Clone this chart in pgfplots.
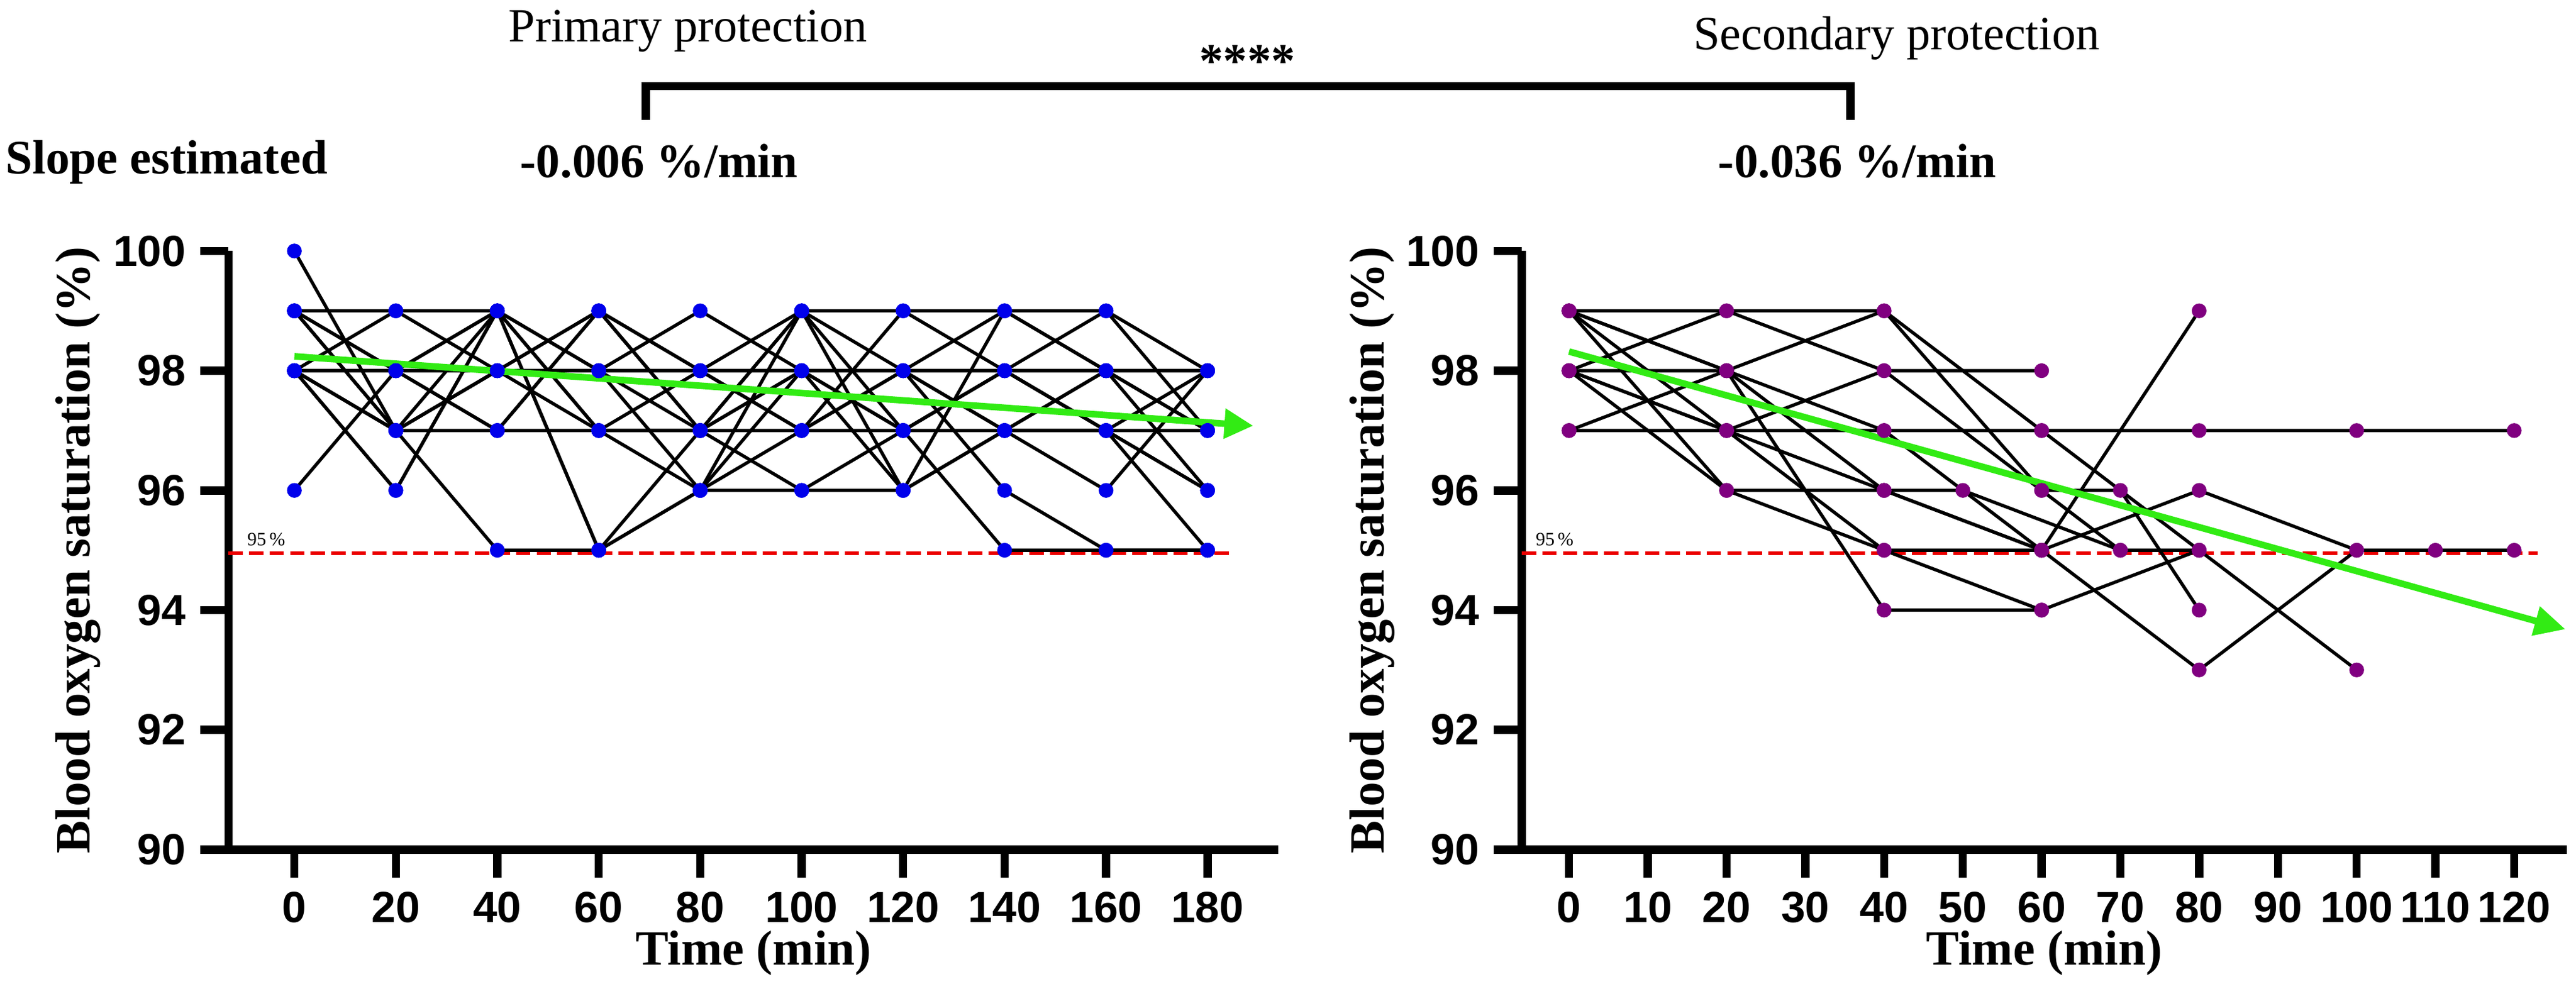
\documentclass[border=0pt]{standalone}
\usepackage{fontspec}
\setmainfont{Liberation Serif}
\newfontfamily\ticksf{Liberation Sans}
\usepackage{pgfplots}
\pgfplotsset{compat=1.18}
\usepackage{pgfplotstable}
\usetikzlibrary{arrows.meta}

\definecolor{ptblue}{RGB}{0,0,235}
\definecolor{ptpurple}{RGB}{128,0,128}
\definecolor{trendgreen}{RGB}{50,235,20}
\definecolor{refred}{RGB}{235,0,0}

\pgfplotstableread{
t   A   B  C  D  E  F  G  H  I  J  K  L  M  N  O
0   100 99 99 99 98 98 98 98 96 99 98 98 98 99 98
20  97  99 98 97 99 98 97 96 98 98 97 98 97 97 96
40  98  99 97 95 98 99 98 99 97 99 99 98 97 98 99
60  99  98 99 95 98 97 97 98 99 95 97 98 97 99 95
80  98  96 97 96 99 97 96 97 98 96 98 98 97 97 97
100 97  96 99 97 98 99 99 96 97 98 99 98 97 98 98
120 99  96 98 98 97 96 99 97 98 98 97 98 97 97 96
140 98  99 97 96 95 97 99 98 99 97 98 98 97 98 97
160 97  98 96 95 95 98 99 97 98 97 99 98 97 97 98
180 96  97 98 95 95 98 97 96 97 95 98 98 97 98 96
}\leftdata

\pgfplotstableread{
t   R1  R2  R3  R4  R5  R6  R7  R8  R9  R10 R11 R12
0   99  98  97  99  98  99  98  97  99  98  99  98
20  99  98  97  98  97  96  99  98  97  96  98  97
40  98  97  96  96  95  95  99  94  97  96  99  98
50  nan nan nan 96  nan nan nan nan nan nan nan nan
60  98  97  95  nan 95  94  96  94  95  95  97  96
70  nan nan nan 95  nan nan 96  nan nan nan nan 95
80  nan 97  99  95  96  95  94  nan 93  nan 95  nan
100 nan 97  nan 93  95  nan nan nan 95  nan nan nan
110 nan nan nan nan 95  nan nan nan nan nan nan nan
120 nan 97  nan nan 95  nan nan nan nan nan nan nan
}\rightdata

\pgfplotsset{
  panel/.style={
    scale only axis,
    anchor=south west,
    height=145.7pt,
    ymin=90, ymax=100,
    ytick={90,92,...,100},
    axis x line=bottom,
    axis y line=left,
    axis line style={line width=2pt,-},
    tick align=outside,
    major tick length=6.8pt,
    tick style={line width=2pt,black},
    /pgf/number format/assume math mode=true,
    tick label style={font=\ticksf\bfseries\fontsize{10.6}{12}\selectfont},
    every axis y label/.style={at={(axis description cs:-0.143,0.5)},rotate=90,anchor=center,
      font=\bfseries\fontsize{12}{14}\selectfont},
    every axis x label/.style={at={(axis description cs:0.5,-0.173)},anchor=center,
      font=\bfseries\fontsize{12}{14}\selectfont},
    ylabel={Blood oxygen saturation (\%)},
    xlabel={Time (min)},
    clip=false,
  },
  subj/.style={black,line width=0.8pt,no marks},
}

\begin{document}
\begin{tikzpicture}
\useasboundingbox (0,0) rectangle (627pt,240.7pt);

% ---------- left panel ----------
\begin{axis}[panel,
  at={(55.6pt,33.9pt)}, width=255.6pt,
  xmin=-13, xmax=194,
  xtick={0,20,...,180},
]
\addplot[refred,line width=0.8pt,dash pattern=on 3.5pt off 1.5pt] coordinates {(-13,94.95) (185,94.95)};
\pgfplotsinvokeforeach{A,B,C,D,E,F,G,H,I,J,K,L,M,N,O}{
  \addplot[subj] table[x=t,y=#1]{\leftdata};
}
\pgfplotsinvokeforeach{A,B,C,D,E,F,G,H,I,J,K,L,M,N,O}{
  \addplot[only marks,mark=*,mark size=1.6pt,mark options={fill=ptblue,draw=ptblue}] table[x=t,y=#1]{\leftdata};
}
\addplot[trendgreen,line width=1.6pt,-{Triangle[length=7pt,width=7pt]}] coordinates {(0,98.24) (189,97.08)};
\node[anchor=south west,inner sep=0pt,font=\fontsize{4.6}{5}\selectfont,xshift=4.4pt,yshift=1.6pt] at (axis cs:-13,94.95) {95\,\%};
\end{axis}

% ---------- right panel ----------
\begin{axis}[panel,
  at={(370.4pt,33.9pt)}, width=254.4pt,
  xmin=-6, xmax=126.7,
  xtick={0,10,...,120},
]
\addplot[refred,line width=0.8pt,dash pattern=on 3.5pt off 1.5pt] coordinates {(-6,94.95) (123,94.95)};
\pgfplotsinvokeforeach{R1,R2,R3,R4,R5,R6,R7,R8,R9,R10,R11,R12}{
  \addplot[subj] table[x=t,y=#1]{\rightdata};
}
\pgfplotsinvokeforeach{R1,R2,R3,R4,R5,R6,R7,R8,R9,R10,R11,R12}{
  \addplot[only marks,mark=*,mark size=1.6pt,mark options={fill=ptpurple,draw=ptpurple}] table[x=t,y=#1]{\rightdata};
}
\addplot[trendgreen,line width=1.6pt,-{Triangle[length=7.5pt,width=7pt]}] coordinates {(0,98.32) (126.5,93.68)};
\node[anchor=south west,inner sep=0pt,font=\fontsize{4.6}{5}\selectfont,xshift=3.2pt,yshift=1.6pt] at (axis cs:-6,94.95) {95\,\%};
\end{axis}

% ---------- annotations ----------
\node[anchor=base west,inner sep=0pt,font=\fontsize{11.6}{13}\selectfont] at (123.6pt,230.6pt) {Primary protection};
\node[anchor=base west,inner sep=0pt,font=\fontsize{11.6}{13}\selectfont] at (412pt,228.6pt) {Secondary protection};
\node[anchor=base,inner sep=0pt,font=\bfseries\fontsize{11.7}{13}\selectfont] at (303.6pt,222pt) {****};
\draw[line width=2pt] (157.2pt,211.5pt) -- (157.2pt,219.7pt) -- (450.4pt,219.7pt) -- (450.4pt,211.5pt);
\node[anchor=base west,inner sep=0pt,font=\bfseries\fontsize{11.7}{13}\selectfont] at (1.2pt,198.4pt) {Slope estimated};
\node[anchor=base west,inner sep=0pt,font=\bfseries\fontsize{11.7}{13}\selectfont] at (126.4pt,197.5pt) {-0.006 \%/min};
\node[anchor=base west,inner sep=0pt,font=\bfseries\fontsize{11.7}{13}\selectfont] at (418pt,197.5pt) {-0.036 \%/min};
\end{tikzpicture}
\end{document}
